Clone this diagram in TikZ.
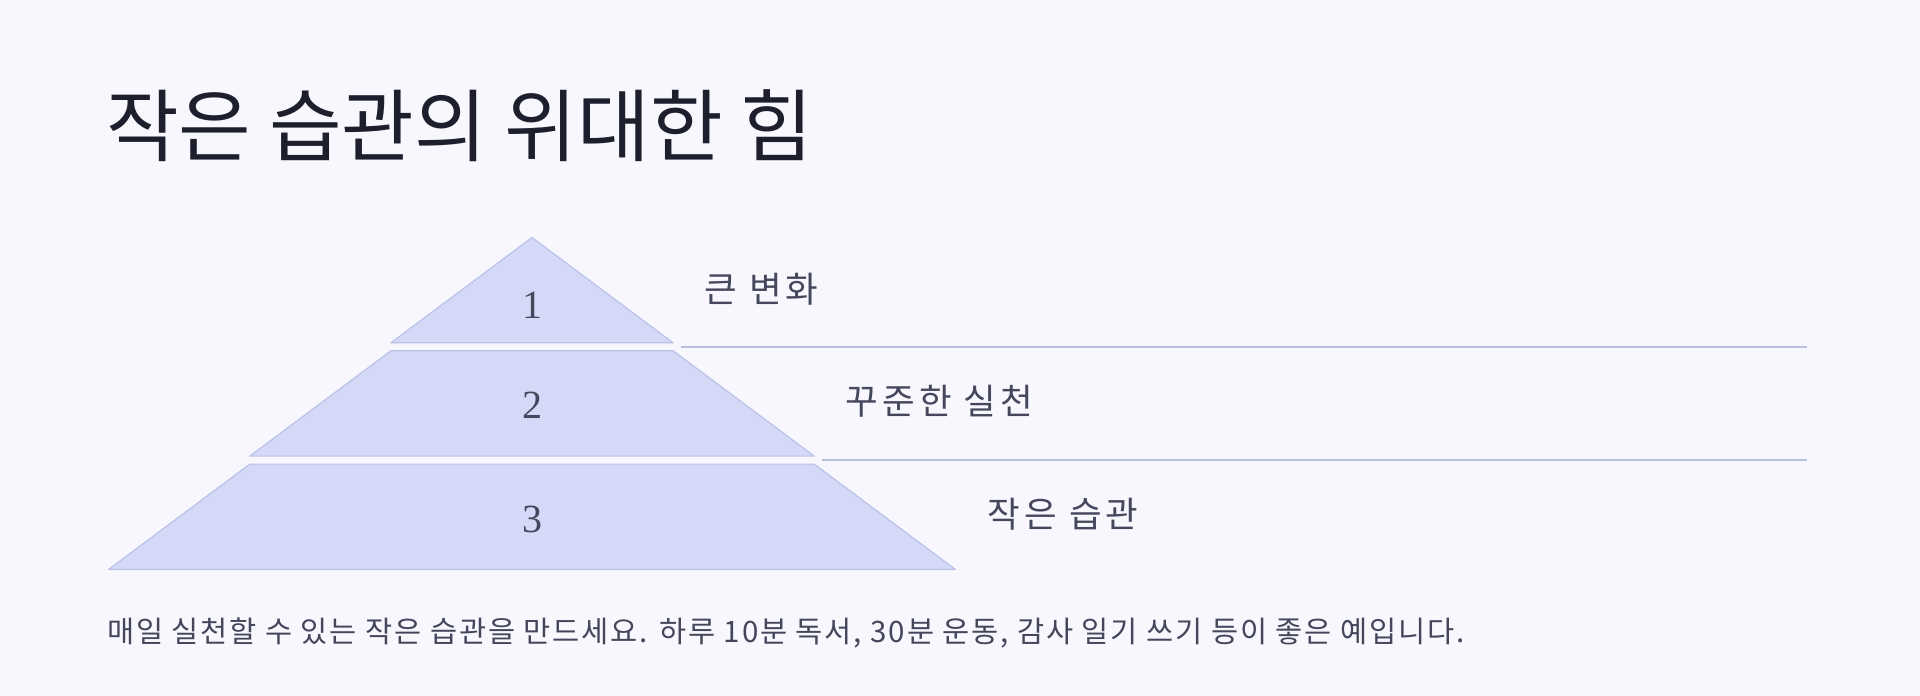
\documentclass[tikz,border=0pt]{standalone}
\usepackage{fontspec}
\setmainfont{Noto Sans CJK KR}
\newfontfamily\numfont{Liberation Serif}
\newfontfamily\lblfont[LetterSpace=12]{Noto Sans CJK KR}
\newfontfamily\bodyfont[LetterSpace=6.3]{Noto Sans CJK KR}
\definecolor{bgc}{HTML}{F7F7FD}
\definecolor{tierfill}{HTML}{D3D9F6}
\definecolor{tierdraw}{HTML}{BAC2EA}
\definecolor{linec}{HTML}{B9C0DC}
\definecolor{titlec}{HTML}{1E1F2D}
\definecolor{labelc}{HTML}{45475D}
\definecolor{bodyc}{HTML}{44465C}
\tikzset{
  tier/.style={fill=tierfill,draw=tierdraw,line width=1.2pt,line join=round},
  num/.style={font=\numfont\fontsize{40}{44}\selectfont,text=labelc,inner sep=0pt},
  lbl/.style={font=\lblfont\fontsize{35.5}{40}\selectfont,text=labelc,anchor=west,inner sep=0pt},
  sep/.style={draw=linec,line width=2pt},
}
\begin{document}
\begin{tikzpicture}[x=1pt,y=-1pt]
\fill[bgc] (0,0) rectangle (1920,696);
\useasboundingbox (0,0) rectangle (1920,696);
% title
\node[anchor=west,inner sep=0pt,text=titlec,font=\fontsize{79}{90}\selectfont] (title) at (106,126) {작은 습관의 위대한 힘};
% pyramid
\draw[tier] (532,237.5) -- (673.1,342.8) -- (390.9,342.8) -- cycle;
\draw[tier] (390.9,350.8) -- (673.1,350.8) -- (814.2,456.1) -- (249.8,456.1) -- cycle;
\draw[tier] (249.8,464.1) -- (814.2,464.1) -- (955.3,569.4) -- (108.7,569.4) -- cycle;
\node[num] (n1) at (532,305) {1};
\node[num] (n2) at (532,405) {2};
\node[num] (n3) at (532,519) {3};
% separator lines
\coordinate (l1a) at (680.5,346.7);
\coordinate (l1b) at (1807,346.7);
\coordinate (l2a) at (821.5,460.4);
\coordinate (l2b) at (1807,460.4);
\draw[sep] (l1a) -- (l1b);
\draw[sep] (l2a) -- (l2b);
% labels
\node[lbl] (lab1) at (704,289) {큰 변화};
\node[lbl] (lab2) at (845,401.5) {꾸준한 실천};
\node[lbl] (lab3) at (987,514) {작은 습관};
% body text
\node[anchor=west,inner sep=0pt,text=bodyc,font=\bodyfont\fontsize{29.5}{34}\selectfont] (body) at (107,632.5) {매일 실천할 수 있는 작은 습관을 만드세요. 하루 10분 독서, 30분 운동, 감사 일기 쓰기 등이 좋은 예입니다.};
\end{tikzpicture}
\end{document}
